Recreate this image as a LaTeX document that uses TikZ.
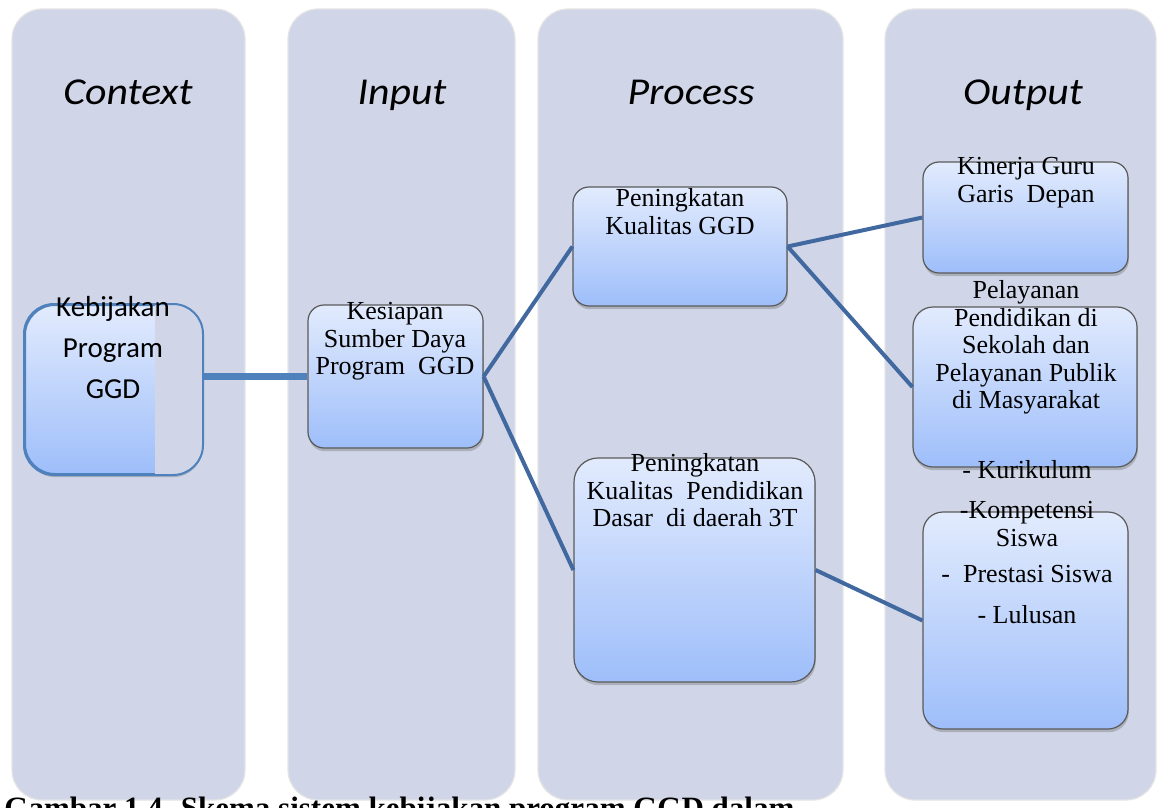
\documentclass[tikz,border=0pt]{standalone}
\usepackage{fontspec}
\setmainfont{Liberation Serif}
\newfontfamily\headfont{Carlito}
\newfontfamily\titlefont[FakeStretch=1.1]{Carlito}
\usetikzlibrary{shadows}

\definecolor{panelgray}{RGB}{208,214,232}
\definecolor{boxtop}{RGB}{226,235,253}
\definecolor{boxbot}{RGB}{158,190,250}
\definecolor{boxline}{RGB}{90,90,90}
\definecolor{linkblue}{RGB}{65,105,160}
\definecolor{kblue}{RGB}{79,129,189}

\begin{document}
\begin{tikzpicture}[x=0.5pt,y=-0.5pt,
  panel/.style={fill=panelgray,draw=black!10,line width=0.6pt,rounded corners=15pt},
  head/.style={font=\titlefont\itshape\fontsize{19}{23}\selectfont,anchor=base},
  box/.style={draw=boxline,line width=0.6pt,top color=boxtop,bottom color=boxbot,
    drop shadow={shadow xshift=0.4pt,shadow yshift=-1.6pt,opacity=0.45}},
  txt/.style={font=\fontsize{13}{13.8}\selectfont,align=center,inner sep=0pt,anchor=north},
  link/.style={draw=linkblue,line width=2pt}]

  \useasboundingbox (0,0) rectangle (1159,807);
  \clip (0,0) rectangle (1159,807);

  % columns
  \draw[panel] (12,9) rectangle (245,800);
  \draw[panel] (288,9) rectangle (515,800);
  \draw[panel] (538,9) rectangle (843,800);
  \draw[panel] (885,9) rectangle (1156,800);

  \node[head] (hcontext) at (128,105) {Context};
  \node[head] (hinput) at (402,105) {Input};
  \node[head] (hprocess) at (691,105) {Process};
  \node[head] (houtput) at (1023,105) {Output};

  % context
  \node[box,draw=kblue,line width=1pt,rounded corners=15pt,
    minimum width=88.5pt,minimum height=84.5pt] (kebijakan) at (113.5,389.5) {};
  \begin{scope}
    \clip[rounded corners=15pt] (kebijakan.south west) rectangle (kebijakan.north east);
    \fill[panelgray] (155,300) rectangle (210,480);
  \end{scope}
  \draw[kblue,line width=1pt,rounded corners=15pt] (kebijakan.south west) rectangle (kebijakan.north east);
  \node[txt,font=\headfont\fontsize{14.5}{20.5}\selectfont] (tkebijakan) at (113,296)
    {Kebijakan\\Program\\GGD};

  % input
  \node[box,rounded corners=8pt,minimum width=87.5pt,minimum height=71.5pt] (kesiapan) at (395.5,376.5) {};
  \node[txt] (tkesiapan) at (395,302) {Kesiapan\\Sumber Daya\\Program\ \ GGD};

  % process
  \node[box,rounded corners=8pt,minimum width=107pt,minimum height=59.5pt] (kualitas) at (680,246.5) {};
  \node[txt] (tkualitas) at (680,188) {Peningkatan\\Kualitas GGD};

  \node[box,rounded corners=12pt,minimum width=120.5pt,minimum height=112pt] (dasar) at (694.5,570) {};
  \node[txt] (tdasar) at (695,453) {Peningkatan\\Kualitas\ \ Pendidikan\\Dasar\ \ di daerah 3T};

  % output
  \node[box,rounded corners=8pt,minimum width=102.5pt,minimum height=55.5pt] (kinerja) at (1025.5,217.5) {};
  \node[txt] (tkinerja) at (1026,157) {Kinerja Guru\\Garis\ \ Depan};

  \node[box,rounded corners=10pt,minimum width=112pt,minimum height=80pt] (layanan) at (1025,387) {};
  \node[txt] (tlayanan) at (1026,280)
    {Pelayanan\\Pendidikan di\\Sekolah dan\\Pelayanan Publik\\di Masyarakat};

  \node[box,rounded corners=10pt,minimum width=102.5pt,minimum height=108.5pt] (siswa) at (1025.5,620.5) {};
  \node[txt] (tsiswa) at (1027,460)
    {- Kurikulum\\[6.2pt]-Kompetensi\\Siswa\\[4.2pt]-\ \ Prestasi Siswa\\[6.7pt]- Lulusan};

  % links
  \draw[link,draw=kblue,line width=3.7pt] (kesiapan.west) -- (kesiapan.west -| kebijakan.east);
  \draw[link] (kesiapan.east) -- (kualitas.west);
  \draw[link] (kesiapan.east) -- (dasar.west);
  \draw[link] (kualitas.east) -- (kinerja.west);
  \draw[link] (kualitas.east) -- (layanan.west);
  \draw[link] (dasar.east) -- (siswa.west);

  \node[font=\bfseries\fontsize{15.5}{18}\selectfont,anchor=base west,inner sep=0pt] (caption) at (4,818)
    {Gambar 1.4. Skema sistem kebijakan program GGD dalam};
\end{tikzpicture}
\end{document}
